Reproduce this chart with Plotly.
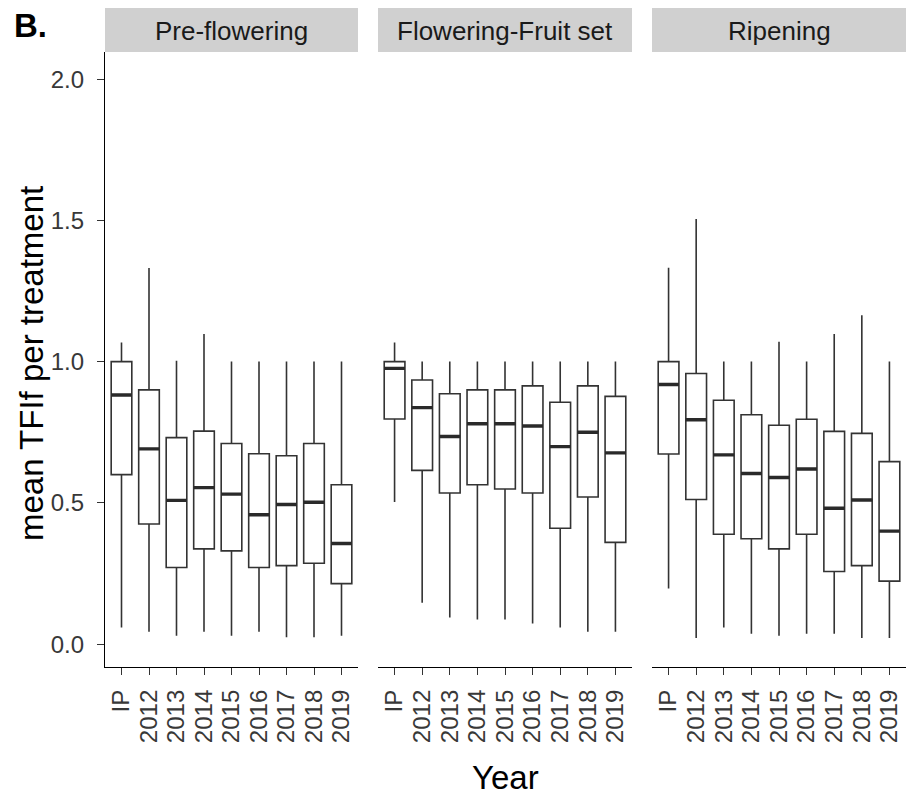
import plotly.graph_objects as go

categories = ["IP", "2012", "2013", "2014", "2015", "2016", "2017", "2018", "2019"]
facets = ["Pre-flowering", "Flowering-Fruit set", "Ripening"]

pre_low = [0.059, 0.044, 0.030, 0.044, 0.030, 0.044, 0.024, 0.024, 0.030]
pre_q1 = [0.600, 0.425, 0.271, 0.337, 0.330, 0.271, 0.278, 0.286, 0.214]
pre_med = [0.882, 0.691, 0.509, 0.554, 0.531, 0.458, 0.494, 0.502, 0.356]
pre_q3 = [1.000, 0.900, 0.731, 0.754, 0.710, 0.674, 0.667, 0.710, 0.564]
pre_high = [1.068, 1.331, 1.003, 1.098, 1.000, 1.000, 1.000, 1.000, 1.000]

flo_low = [0.503, 0.146, 0.094, 0.087, 0.087, 0.073, 0.059, 0.044, 0.044]
flo_q1 = [0.797, 0.615, 0.535, 0.564, 0.549, 0.535, 0.410, 0.521, 0.360]
flo_med = [0.976, 0.837, 0.735, 0.780, 0.780, 0.772, 0.699, 0.750, 0.677]
flo_q3 = [1.000, 0.935, 0.886, 0.900, 0.900, 0.914, 0.856, 0.914, 0.877]
flo_high = [1.068, 1.000, 1.000, 1.000, 1.000, 1.000, 1.000, 1.000, 1.000]

rip_low = [0.197, 0.022, 0.059, 0.037, 0.030, 0.037, 0.037, 0.022, 0.022]
rip_q1 = [0.673, 0.512, 0.389, 0.373, 0.337, 0.389, 0.257, 0.278, 0.223]
rip_med = [0.919, 0.794, 0.670, 0.604, 0.590, 0.620, 0.481, 0.510, 0.400]
rip_q3 = [1.000, 0.958, 0.863, 0.812, 0.775, 0.796, 0.753, 0.746, 0.646]
rip_high = [1.332, 1.505, 1.000, 1.000, 1.070, 1.000, 1.098, 1.164, 1.000]

y_ticks = [0.0, 0.5, 1.0, 1.5, 2.0]
y_tick_text = ["0.0", "0.5", "1.0", "1.5", "2.0"]

data = [
    (pre_low, pre_q1, pre_med, pre_q3, pre_high),
    (flo_low, flo_q1, flo_med, flo_q3, flo_high),
    (rip_low, rip_q1, rip_med, rip_q3, rip_high),
]

# page has an 8px body margin; figure is sized to fit the window
OFF = 8
W, H = 914, 792
FONT = "Liberation Sans, Arial, sans-serif"
BOXCOL = "#333333"


def px(v):
    return v - OFF


def fx(p):
    return px(p) / W


def fy(p):
    return (H - px(p)) / H


panel_px = [(105, 358), (378, 632), (652, 906)]
top_px, bottom_px = 52, 667
ydom = [fy(bottom_px), fy(top_px)]

fig = go.Figure()

for i, (lo, q1, med, q3, hi) in enumerate(data):
    xa = "x" if i == 0 else f"x{i+1}"
    ya = "y" if i == 0 else f"y{i+1}"
    fig.add_trace(go.Box(
        x=categories, q1=q1, median=med, q3=q3, lowerfence=lo, upperfence=hi,
        xaxis=xa, yaxis=ya, fillcolor="white", line=dict(color=BOXCOL, width=1.6),
        width=0.75, whiskerwidth=0, boxpoints=False, showlegend=False, hoverinfo="skip",
    ))
    # thicker median bar, drawn as zero-height boxes at the median values
    fig.add_trace(go.Box(
        x=categories, q1=med, median=med, q3=med, lowerfence=med, upperfence=med,
        xaxis=xa, yaxis=ya, fillcolor="rgba(0,0,0,0)", line=dict(color="#2a2a2a", width=3.4),
        width=0.75, whiskerwidth=0, boxpoints=False, showlegend=False, hoverinfo="skip",
    ))

layout = dict(
    width=W, height=H, margin=dict(l=0, r=0, t=0, b=0),
    paper_bgcolor="white", plot_bgcolor="white", boxmode="overlay",
    font=dict(family=FONT, color="#333333"),
)

yrange = [-0.081, 2.096]
for i, (x0, x1) in enumerate(panel_px):
    sfx = "" if i == 0 else str(i + 1)
    layout[f"xaxis{sfx}"] = dict(
        domain=[fx(x0), fx(x1)], anchor=f"y{sfx}", type="category",
        categoryorder="array", categoryarray=categories, range=[-0.6, 8.6],
        tickmode="array", tickvals=categories, ticktext=categories,
        showline=True, linecolor="black", linewidth=1.3, mirror=False,
        ticks="outside", ticklen=7, tickwidth=1.2, tickcolor="#333333",
        tickangle=-90, tickfont=dict(family=FONT, size=24, color="#383838"),
        showgrid=False, zeroline=False, fixedrange=True, ticklabelstandoff=5,
    )
    ycfg = dict(
        domain=ydom, anchor=f"x{sfx}", range=yrange, showgrid=False, zeroline=False,
        fixedrange=True,
    )
    if i == 0:
        ycfg.update(
            showline=True, linecolor="black", linewidth=1.3,
            ticks="outside", ticklen=7, tickwidth=1.2, tickcolor="#333333",
            tickvals=y_ticks, ticktext=y_tick_text,
            tickfont=dict(family=FONT, size=24, color="#383838"), ticklabelstandoff=8,
        )
    else:
        ycfg.update(showline=False, showticklabels=False, ticks="", matches="y")
    layout[f"yaxis{sfx}"] = ycfg

fig.update_layout(**layout)

strip_top, strip_bot = 8, 52
for (x0, x1), name in zip(panel_px, facets):
    fig.add_shape(type="rect", xref="paper", yref="paper",
                  x0=fx(x0), x1=fx(x1), y0=fy(strip_bot), y1=fy(strip_top),
                  fillcolor="#D0D0D0", line=dict(width=0), layer="below")
    fig.add_annotation(text=name, xref="paper", yref="paper",
                       x=fx((x0 + x1) / 2), y=fy(31),
                       showarrow=False, xanchor="center", yanchor="middle",
                       font=dict(family=FONT, size=26, color="#1a1a1a"))

fig.add_annotation(text="Year", xref="paper", yref="paper",
                   x=fx(505.5), y=fy(777), showarrow=False,
                   xanchor="center", yanchor="middle",
                   font=dict(family=FONT, size=33, color="black"))
fig.add_annotation(text="mean TFIf per treatment", xref="paper", yref="paper",
                   x=fx(31), y=fy(364), showarrow=False, textangle=-90,
                   xanchor="center", yanchor="middle",
                   font=dict(family=FONT, size=33, color="black"))
fig.add_annotation(text="<b>B.</b>", xref="paper", yref="paper",
                   x=fx(12), y=fy(25), showarrow=False,
                   xanchor="left", yanchor="middle",
                   font=dict(family=FONT, size=33, color="black"))

fig.write_html("out.html")
